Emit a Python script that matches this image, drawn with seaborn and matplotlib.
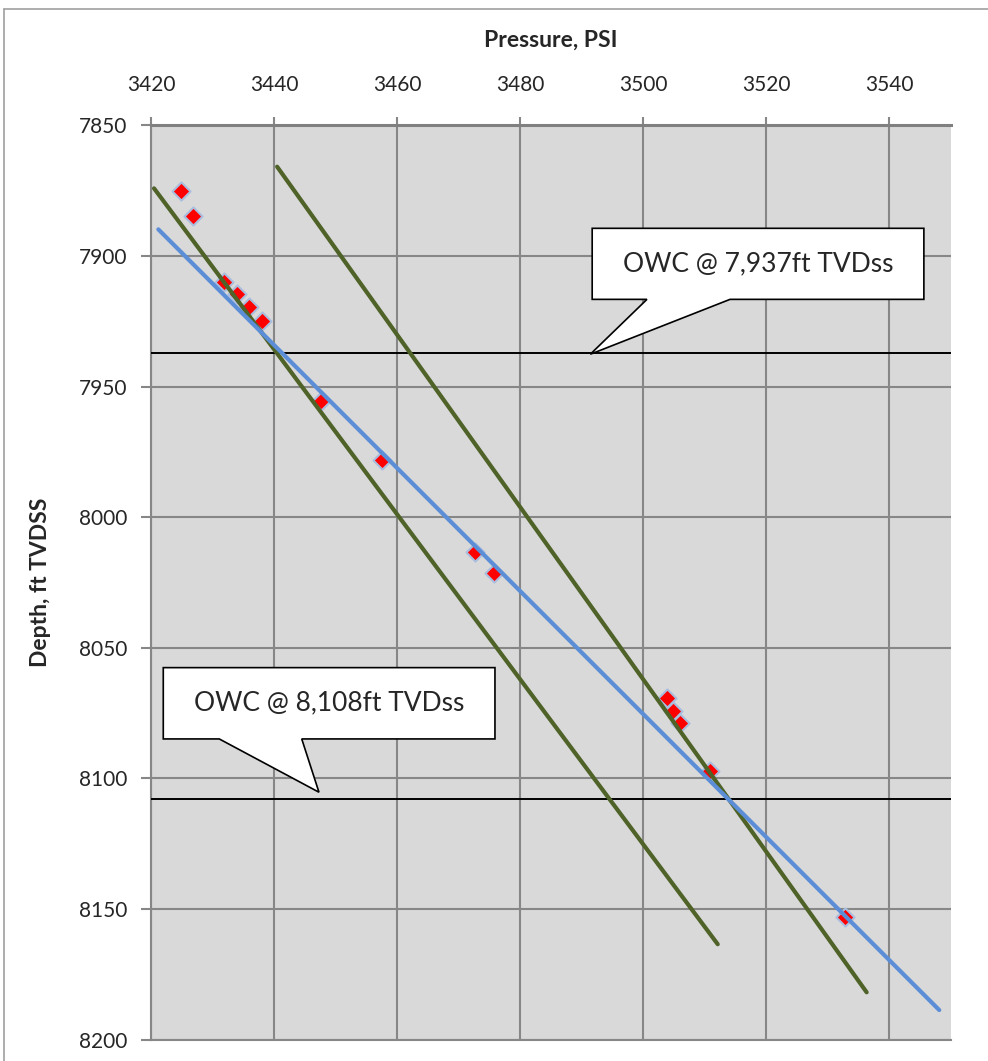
import matplotlib.pyplot as plt
from matplotlib.patches import Polygon
from matplotlib.lines import Line2D
import pandas as pd
import seaborn as sns

# pressure points (psi) and depth (ft TVDSS)
pressure = [3424.8, 3426.8, 3431.9, 3433.9, 3435.9, 3438.0, 3447.6, 3457.6,
            3472.6, 3475.7, 3503.9, 3504.9, 3506.0, 3510.9, 3532.8]
depth = [7875.0, 7884.7, 7909.8, 7914.5, 7919.4, 7924.8, 7955.5, 7978.1,
         8013.4, 8021.2, 8069.1, 8074.1, 8078.7, 8097.1, 8153.2]

# gradient lines (end points)
fit_p = [3421.2, 3548.1]
fit_d = [7889.8, 8188.7]
grad1_p = [3420.5, 3512.1]
grad1_d = [7874.1, 8163.5]
grad2_p = [3440.5, 3536.3]
grad2_d = [7865.8, 8181.9]

owc_depths = [7937, 8108]
owc_labels = ["OWC @ 7,937ft TVDss", "OWC @ 8,108ft TVDss"]

x_ticks = [3420, 3440, 3460, 3480, 3500, 3520, 3540]
y_ticks = [7850, 7900, 7950, 8000, 8050, 8100, 8150, 8200]

sns.set_style("whitegrid", {"axes.facecolor": "#D9D9D9", "grid.color": "#878787"})
plt.rcParams['font.family'] = ['Lato', 'DejaVu Sans']

fig = plt.figure(figsize=(9.88, 10.61), dpi=100)
ax = fig.add_axes([0.1528, 0.0202, 0.8097, 0.8616])

points = pd.DataFrame({"p": pressure, "d": depth})
sns.scatterplot(data=points, x="p", y="d", marker="D", s=85, color="#FF0000",
                edgecolor="#A9BEDF", linewidth=1.5, ax=ax, zorder=3)

for d in owc_depths:
    ax.axhline(d, color="black", lw=1.4, zorder=3)

sns.lineplot(x=grad1_p, y=grad1_d, color="#4F6228", lw=3, ax=ax, zorder=4)
sns.lineplot(x=grad2_p, y=grad2_d, color="#4F6228", lw=3, ax=ax, zorder=4)
sns.lineplot(x=fit_p, y=fit_d, color="#5B8ED6", lw=3, ax=ax, zorder=4)

ax.set_xlim(3420, 3550)
ax.set_ylim(8200, 7850)
ax.set_xticks(x_ticks)
ax.set_yticks(y_ticks)
ax.grid(True, color="#878787", lw=1.5)
ax.set_axisbelow(True)

ax.xaxis.tick_top()
ax.xaxis.set_label_position("top")
ax.tick_params(axis="x", top=True, bottom=False, length=6, width=1.5,
               color="#878787", labelsize=15, pad=16)
ax.tick_params(axis="y", left=True, length=7, width=1.5,
               color="#878787", labelsize=15, pad=10)

ax.set_xlabel("Pressure, PSI", fontsize=16.5, fontweight="bold", labelpad=20)
ax.set_ylabel("Depth, ft TVDSS", fontsize=16.5, fontweight="bold", labelpad=20)

for side in ["left", "bottom"]:
    ax.spines[side].set_color("#878787")
    ax.spines[side].set_linewidth(1.5)
ax.spines["top"].set_color("#808080")
ax.spines["top"].set_linewidth(2.2)
ax.spines["right"].set_visible(False)

# callout boxes: box corners, pointer base and tip
callouts = [
    {"box": (3491.7, 3545.6, 7889.4, 7916.6), "base": (3500.6, 3514.1), "tip": (3491.4, 7937.6)},
    {"box": (3422.0, 3475.9, 8057.6, 8084.9), "base": (3431.1, 3444.5), "tip": (3447.3, 8105.3)},
]
for c, label in zip(callouts, owc_labels):
    x0, x1, y0, y1 = c["box"]
    b0, b1 = c["base"]
    verts = [(x0, y0), (x1, y0), (x1, y1), (b1, y1), c["tip"], (b0, y1), (x0, y1)]
    ax.add_patch(Polygon(verts, closed=True, facecolor="white", edgecolor="black",
                         lw=1.2, zorder=6))
    ax.text((x0 + x1) / 2, (y0 + y1) / 2, label, ha="center", va="center",
            fontsize=19, zorder=7)

# outer chart border
fig.add_artist(Line2D([0.004, 0.004], [0, 0.9915], transform=fig.transFigure,
                      color="#A0A0A0", lw=1.2))
fig.add_artist(Line2D([0.004, 1], [0.9915, 0.9915], transform=fig.transFigure,
                      color="#A0A0A0", lw=1.2))

plt.savefig("out.png", dpi=100)
